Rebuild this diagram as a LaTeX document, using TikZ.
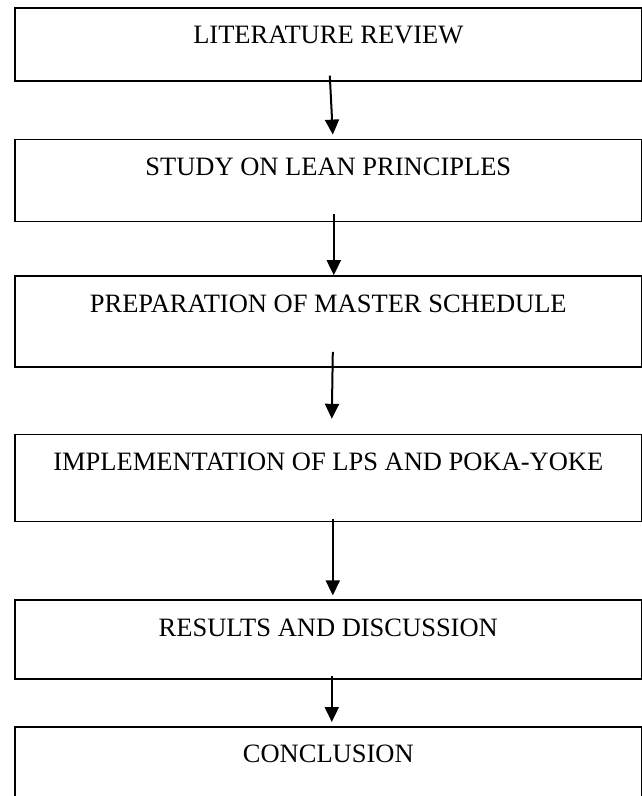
\documentclass[tikz,border=0pt]{standalone}
\usepackage{fontspec}
\setmainfont{Liberation Serif}
\usepackage{tikz}
\usetikzlibrary{positioning,arrows.meta}

\begin{document}
\begin{tikzpicture}[
  x = 1pt,
  y = -1pt,
  stage/.style = {
    draw,
    rectangle,
    line width = 1.6pt,
    fill = white,
    minimum width = 627pt,
    inner ysep = 0pt,
    text height = 36pt,
    font = \fontsize{26.5pt}{30pt}\selectfont,
  },
  flow/.style = {->, line width = 2pt},
  >={Triangle[width=14pt,length=15pt]},
]

  \useasboundingbox[fill=white] (0,0) rectangle (642,796);

  \node[stage,text depth=37pt,anchor=north west] (lit) at (14,7) {LITERATURE REVIEW};
  \node[stage,text depth=46pt] (lean) [below=57pt of lit] {STUDY ON LEAN PRINCIPLES};
  \node[stage,text depth=55pt] (sched) [below=53pt of lean] {PREPARATION OF MASTER SCHEDULE};
  \node[stage,text depth=51pt] (lps) [below=66pt of sched] {IMPLEMENTATION OF LPS AND POKA-YOKE};
  \node[stage,text depth=43pt] (res) [below=77pt of lps] {RESULTS AND DISCUSSION};
  \node[stage,text depth=100pt] (concl) [below=46pt of res] {CONCLUSION};

  \draw[flow] ([xshift=1.5pt,yshift=6pt]lit.south) -- ([xshift=4.5pt,yshift=4pt]lean.north);
  \draw[flow] ([xshift=5.5pt,yshift=8pt]lean.south) -- ([xshift=5.5pt]sched.north);
  \draw[flow] ([xshift=4.5pt,yshift=16pt]sched.south) -- ([xshift=3.5pt,yshift=15pt]lps.north);
  \draw[flow] ([xshift=4.5pt,yshift=3pt]lps.south) -- ([xshift=4.5pt,yshift=4pt]res.north);
  \draw[flow] ([xshift=3.5pt,yshift=4pt]res.south) -- ([xshift=3.5pt,yshift=4pt]concl.north);
\end{tikzpicture}
\end{document}
